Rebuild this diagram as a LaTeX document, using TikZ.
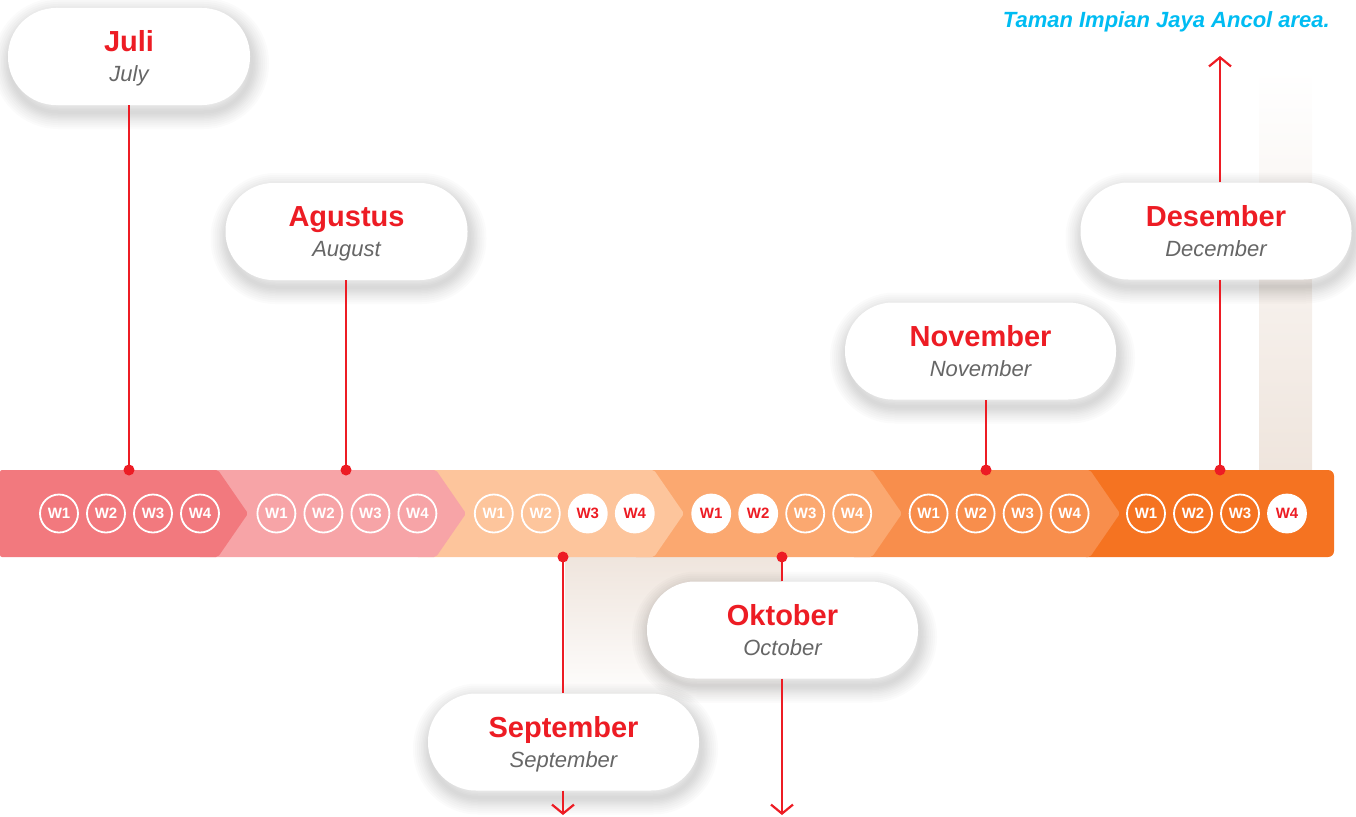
\documentclass[tikz,border=0pt]{standalone}
\usepackage{fontspec}
\setmainfont{Liberation Sans}
\usetikzlibrary{arrows.meta}

\definecolor{markred}{RGB}{237,28,36}
\definecolor{engray}{RGB}{102,102,102}
\definecolor{noteblue}{RGB}{0,188,242}
\definecolor{beam}{RGB}{239,229,221}
\definecolor{segA}{RGB}{242,121,126}
\definecolor{segB}{RGB}{247,164,167}
\definecolor{segC}{RGB}{253,197,156}
\definecolor{segD}{RGB}{251,168,112}
\definecolor{segE}{RGB}{248,142,76}
\definecolor{segF}{RGB}{245,115,33}

\tikzset{
    softring/.style={preaction={draw=black,draw opacity=0.017,line width=#1,
        transform canvas={xshift=2pt,yshift=-7pt}}},
    softshadow/.style={softring=3pt,softring=6pt,softring=9pt,softring=12pt,softring=15pt,
        softring=18pt,softring=22pt,softring=26pt,softring=30pt,softring=34pt}
}

\begin{document}
\begin{tikzpicture}[x=1pt,y=-1pt,
    bubble/.style={softshadow,fill=white,rounded corners=48pt,minimum height=97pt,minimum width=242pt},
    wide/.style={minimum width=271pt},
    idtext/.style={anchor=base,inner sep=0pt,text=markred,font=\fontsize{29}{29}\selectfont\bfseries},
    entext/.style={anchor=base,inner sep=0pt,text=engray,font=\fontsize{22}{22}\selectfont\itshape},
    week/.style={circle,draw=white,line width=1.8pt,minimum size=38pt,inner sep=0pt,text=white,font=\fontsize{15}{15}\selectfont\bfseries},
    weekon/.style={week,fill=white,text=markred},
    dot/.style={circle,fill=markred,inner sep=0pt,minimum size=11pt},
    stem/.style={draw=markred,line width=2.2pt},
    tip/.style={stem,-{Straight Barb[length=9pt,width=22pt]}}]
    \useasboundingbox (0,0) rectangle (1356,816);

    % light beams
    \shade[top color=white,bottom color=beam] (1259,70) rectangle (1312,470);
    \shade[top color=beam,bottom color=white] (565,557) rectangle (782,705);

    % band
    \fill[segF,rounded corners=6pt] (1080,470) rectangle (1334,557);
    \foreach \s/\col in {4/segE,3/segD,2/segC,1/segB,0/segA}
        \fill[\col,rounded corners=2pt] ({max(0,218*\s-20)},470) -- ({218*(\s+1)},470) -- ({218*(\s+1)+30},513.5)
            -- ({218*(\s+1)},557) -- ({max(0,218*\s-20)},557) -- cycle;

    % weeks
    \foreach \s/\ka/\kb/\kc/\kd in {0/week/week/week/week,1/week/week/week/week,2/week/week/weekon/weekon,
            3/weekon/weekon/week/week,4/week/week/week/week,5/week/week/week/weekon}
        \foreach \k/\st in {1/\ka,2/\kb,3/\kc,4/\kd}
            \node[\st] (w\s\k) at ({59+217.4*\s+47*(\k-1)},513.5) {W\k};

    \node[anchor=base east,inner sep=0pt,text=noteblue,font=\fontsize{22}{22}\selectfont\bfseries\itshape] (note) at (1330,28) {Taman Impian Jaya Ancol area.};

    % months
    \node[bubble] (jul) at (129,56.5) {};
    \node[idtext] (jul id) at ([yshift=5pt]jul.center) {Juli};
    \node[entext] (jul en) at ([yshift=-25pt]jul.center) {July};

    \node[bubble] (aug) at (346.5,231.5) {};
    \node[idtext] (aug id) at ([yshift=5pt]aug.center) {Agustus};
    \node[entext] (aug en) at ([yshift=-25pt]aug.center) {August};

    \node[bubble,wide] (sep) at (563.5,742) {};
    \node[idtext] (sep id) at ([yshift=5pt]sep.center) {September};
    \node[entext] (sep en) at ([yshift=-25pt]sep.center) {September};

    \node[bubble,wide] (oct) at (782.5,630) {};
    \node[idtext] (oct id) at ([yshift=5pt]oct.center) {Oktober};
    \node[entext] (oct en) at ([yshift=-25pt]oct.center) {October};

    \node[bubble,wide] (nov) at (980.5,351) {};
    \node[idtext] (nov id) at ([yshift=5pt]nov.center) {November};
    \node[entext] (nov en) at ([yshift=-25pt]nov.center) {November};

    \node[bubble,wide] (dec) at (1216,231) {};
    \node[idtext] (dec id) at ([yshift=5pt]dec.center) {Desember};
    \node[entext] (dec en) at ([yshift=-25pt]dec.center) {December};

    % markers
    \node[dot] (jul dot) at (129,470) {};
    \node[dot] (aug dot) at (346,470) {};
    \node[dot] (sep dot) at (563,557) {};
    \node[dot] (oct dot) at (782,557) {};
    \node[dot] (nov dot) at (986,470) {};
    \node[dot] (dec dot) at (1220,470) {};
    \coordinate (sep end) at (563,815);
    \coordinate (oct end) at (782,815);
    \coordinate (dec end) at (1220,56);

    \draw[stem] (jul dot.center) -- (jul dot |- jul.south);
    \draw[stem] (aug dot.center) -- (aug dot |- aug.south);
    \draw[stem] (sep dot.center) -- (sep dot |- sep.north);
    \draw[tip] (sep dot |- sep.south) -- (sep end);
    \draw[stem] (oct dot.center) -- (oct dot |- oct.north);
    \draw[tip] (oct dot |- oct.south) -- (oct end);
    \draw[stem] (nov dot.center) -- (nov dot |- nov.south);
    \draw[stem] (dec dot.center) -- (dec dot |- dec.south);
    \draw[tip] (dec dot |- dec.north) -- (dec end);
\end{tikzpicture}
\end{document}
